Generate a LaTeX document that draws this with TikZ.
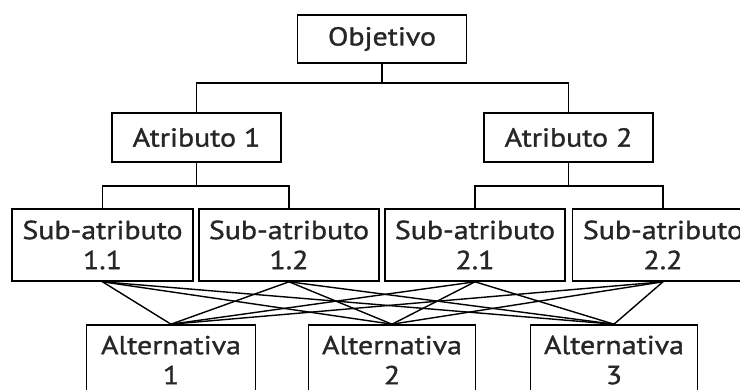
\documentclass[tikz,border=0pt]{standalone}
\usepackage{fontspec}
\setmainfont[FakeStretch=1.15,FakeBold=1.2]{PT Sans}
\begin{document}
\begin{tikzpicture}[x=1pt,y=-1pt,
  box/.style={draw=black, line width=1.6pt, inner sep=0pt, align=center,
    font=\fontsize{26}{30}\selectfont, text=black!85},
  link/.style={draw=black, line width=1.5pt},
  cross/.style={draw=black, line width=1.4pt}]
\useasboundingbox (0,0) rectangle (740,390);
\fill[white] (0,0) rectangle (740,390);
% nodes
\node[box, minimum width=169pt, minimum height=48pt] (obj) at (382,39) {Objetivo};
\node[box, minimum width=169pt, minimum height=49pt] (at1) at (196.5,137.5) {Atributo 1};
\node[box, minimum width=169pt, minimum height=49pt] (at2) at (568.5,137.5) {Atributo 2};
\node[box, minimum width=181pt, minimum height=72pt] (s1) at (102.5,245) {Sub-atributo\\1.1};
\node[box, minimum width=180pt, minimum height=72pt] (s2) at (289,245) {Sub-atributo\\1.2};
\node[box, minimum width=180pt, minimum height=72pt] (s3) at (475,245) {Sub-atributo\\2.1};
\node[box, minimum width=181pt, minimum height=72pt] (s4) at (663,245) {Sub-atributo\\2.2};
\node[box, minimum width=169pt, minimum height=70pt] (a1) at (171,360) {Alternativa\\1};
\node[box, minimum width=167pt, minimum height=70pt] (a2) at (392,360) {Alternativa\\2};
\node[box, minimum width=167pt, minimum height=70pt] (a3) at (614,360) {Alternativa\\3};
% tree connectors
\coordinate (j0) at (382,83);
\coordinate (j1) at (196.5,186);
\coordinate (j2) at (568.5,186);
\draw[link] (obj.south) -- (j0);
\draw[link] (at1.north) |- (j0) -| (at2.north);
\draw[link] (at1.south) -- (j1);
\draw[link] (s1.north) |- (j1) -| (s2.north);
\draw[link] (at2.south) -- (j2);
\draw[link] (s3.north) |- (j2) -| (s4.north);
% crossing connectors
\foreach \s in {s1,s2,s3,s4}{
  \foreach \a in {a1,a2,a3}{
    \draw[cross] (\s.south) -- (\a.north);
  }
}
\end{tikzpicture}
\end{document}
